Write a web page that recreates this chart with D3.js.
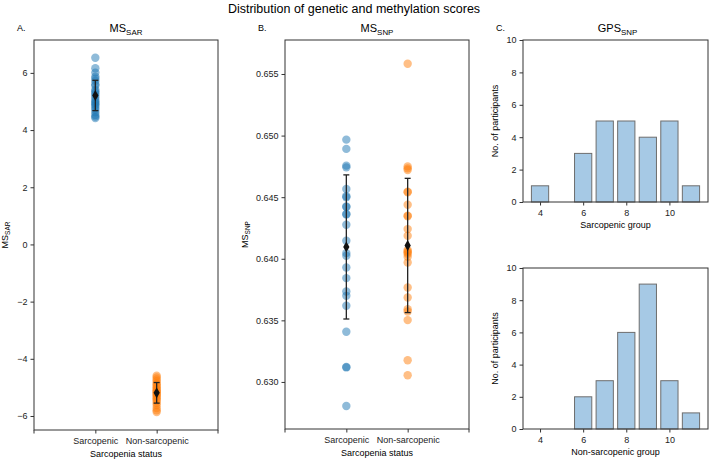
<!DOCTYPE html>
<html>
<head>
<meta charset="utf-8">
<script src="https://cdn.jsdelivr.net/npm/d3@7"></script>
<style>
  body { margin: 0; background: #fff; }
  svg { font-family: "Liberation Sans", Arial, sans-serif; }
</style>
</head>
<body>
<div id="chart"></div>
<script>
// categories
var groups = ["Sarcopenic", "Non-sarcopenic"];

// MS_SAR values per participant
var sarSarc = [6.53, 6.16, 6.01, 5.87, 5.80, 5.72, 5.60, 5.55, 5.41, 5.35, 5.30, 5.23,
               5.15, 5.06, 5.00, 4.95, 4.90, 4.85, 4.78, 4.71, 4.62, 4.53, 4.47, 4.42];
var sarNon = [-4.59, -4.65, -4.72, -4.78, -4.85, -4.90, -4.95, -5.00, -5.05, -5.10, -5.13, -5.17,
              -5.20, -5.24, -5.28, -5.33, -5.38, -5.42, -5.48, -5.55, -5.62, -5.72, -5.80, -5.86];
var sarMean = [5.21, -5.19];
var sarSd = [0.53, 0.36];

// MS_SNP values per participant
var snpSarc = [0.64967, 0.64892, 0.64756, 0.64742, 0.64567, 0.64507, 0.64500, 0.64425,
               0.64420, 0.64363, 0.64360, 0.64276, 0.64146, 0.64046, 0.64024, 0.63929,
               0.63843, 0.63734, 0.63699, 0.63618, 0.63407, 0.63122, 0.63118, 0.62805];
var snpNon = [0.65583, 0.64750, 0.64734, 0.64721, 0.64545, 0.64540, 0.64439, 0.64350,
              0.64345, 0.64241, 0.64187, 0.64071, 0.64060, 0.64051, 0.64038, 0.64016,
              0.63970, 0.63767, 0.63685, 0.63591, 0.63572, 0.63502, 0.63176, 0.63054];
var snpMean = [0.64096, 0.64108];
var snpSd = [0.00585, 0.00545];

// GPS_SNP histograms
var gpsBins = [4, 5, 6, 7, 8, 9, 10, 11];
var gpsSarc = [1, 0, 3, 5, 5, 4, 5, 1];
var gpsNon = [0, 0, 2, 3, 6, 9, 3, 1];

var colors = ["#1f77b4", "#ff7f0e"];

var svg = d3.select("#chart").append("svg")
    .attr("width", 709)
    .attr("height", 460);

svg.append("text")
    .attr("x", 354).attr("y", 13)
    .attr("text-anchor", "middle")
    .style("font-size", "12.5px")
    .text("Distribution of genetic and methylation scores");

// text with a subscript part
function subText(sel, main, sub, size) {
    sel.append("tspan").text(main).style("font-size", size + "px");
    sel.append("tspan").text(sub).attr("dy", size * 0.25)
        .style("font-size", (size * 0.72) + "px");
}

function frame(g, w, h) {
    g.append("rect")
        .attr("width", w).attr("height", h)
        .attr("fill", "none")
        .attr("stroke", "#333").attr("stroke-width", 1);
}

function styleAxis(a) {
    a.select(".domain").remove();
    a.selectAll(".tick line").attr("stroke", "#333");
    a.selectAll(".tick text").style("font-size", "9px").attr("fill", "#222");
}

function stripPanel(opt) {
    var w = opt.w, h = opt.h;
    var g = svg.append("g").attr("transform", "translate(" + opt.left + "," + opt.top + ")");
    var x = d3.scalePoint().domain(groups).range([0, w]).padding(1);
    var y = d3.scaleLinear().domain(opt.domain).range([h, 0]);

    var yAx = g.append("g").call(d3.axisLeft(y).tickValues(opt.ticks)
        .tickFormat(opt.fmt).tickSize(3.5).tickPadding(3));
    styleAxis(yAx);
    var xAx = g.append("g").attr("transform", "translate(0," + h + ")")
        .call(d3.axisBottom(x).tickSize(3.5).tickPadding(4));
    styleAxis(xAx);
    // end ticks at the frame corners like the reference
    g.selectAll(".edge").data([0, w]).enter().append("line")
        .attr("x1", function(d) { return d; }).attr("x2", function(d) { return d; })
        .attr("y1", h).attr("y2", h + 3.5).attr("stroke", "#333");

    opt.values.forEach(function(vals, i) {
        g.selectAll(null).data(vals).enter().append("circle")
            .attr("cx", x(groups[i]))
            .attr("cy", function(d) { return y(d); })
            .attr("r", 4.2)
            .attr("fill", colors[i])
            .attr("fill-opacity", 0.5);
    });

    groups.forEach(function(gr, i) {
        var cx = x(gr), m = opt.mean[i], s = opt.sd[i];
        g.append("line").attr("x1", cx).attr("x2", cx)
            .attr("y1", y(m - s)).attr("y2", y(m + s))
            .attr("stroke", "#222").attr("stroke-width", 1.3);
        [m - s, m + s].forEach(function(v) {
            g.append("line").attr("x1", cx - 3).attr("x2", cx + 3)
                .attr("y1", y(v)).attr("y2", y(v))
                .attr("stroke", "#222").attr("stroke-width", 1.3);
        });
        g.append("path")
            .attr("d", d3.symbol().type(d3.symbolDiamond).size(34)())
            .attr("transform", "translate(" + cx + "," + y(m) + ")")
            .attr("fill", "#111");
    });

    frame(g, w, h);

    subText(g.append("text").attr("x", w / 2).attr("y", -8).attr("text-anchor", "middle"),
        opt.title[0], opt.title[1], 11);
    g.append("text").attr("x", opt.letterX).attr("y", -9)
        .style("font-size", "9px").text(opt.letter);
    subText(g.append("text")
        .attr("transform", "translate(" + opt.ylabX + "," + (h / 2) + ") rotate(-90)")
        .attr("text-anchor", "middle"), opt.title[0], opt.title[1], 9);
    g.append("text").attr("x", w / 2).attr("y", h + 27)
        .attr("text-anchor", "middle").style("font-size", "9px")
        .text("Sarcopenia status");
}

stripPanel({
    left: 34, top: 40, w: 184, h: 390,
    domain: [-6.49, 7.15], ticks: [-6, -4, -2, 0, 2, 4, 6], fmt: d3.format("d"),
    values: [sarSarc, sarNon], mean: sarMean, sd: sarSd,
    title: ["MS", "SAR"], letter: "A.", letterX: -17, ylabX: -26
});

stripPanel({
    left: 285, top: 40, w: 184, h: 389,
    domain: [0.62618, 0.65776], ticks: [0.630, 0.635, 0.640, 0.645, 0.650, 0.655],
    fmt: d3.format(".3f"),
    values: [snpSarc, snpNon], mean: snpMean, sd: snpSd,
    title: ["MS", "SNP"], letter: "B.", letterX: -27, ylabX: -37
});

function histPanel(opt) {
    var w = opt.w, h = opt.h;
    var g = svg.append("g").attr("transform", "translate(" + opt.left + "," + opt.top + ")");
    var x = d3.scaleLinear().domain([3.21, 11.79]).range([0, w]);
    var y = d3.scaleLinear().domain([0, 10]).range([h, 0]);

    var yAx = g.append("g").call(d3.axisLeft(y).tickValues([0, 2, 4, 6, 8, 10])
        .tickSize(3.5).tickPadding(3));
    styleAxis(yAx);
    var xAx = g.append("g").attr("transform", "translate(0," + h + ")")
        .call(d3.axisBottom(x).tickValues([4, 6, 8, 10]).tickSize(3.5).tickPadding(4));
    styleAxis(xAx);

    g.selectAll(".bar").data(gpsBins).enter().append("rect")
        .attr("x", function(d) { return x(d - 0.4); })
        .attr("width", function(d) { return x(d + 0.4) - x(d - 0.4); })
        .attr("y", function(d, i) { return y(opt.counts[i]); })
        .attr("height", function(d, i) { return h - y(opt.counts[i]); })
        .attr("fill", "#a6c9e5")
        .attr("stroke", "#6e6e6e").attr("stroke-width", 1);

    frame(g, w, h);

    g.append("text")
        .attr("transform", "translate(-25," + (h / 2) + ") rotate(-90)")
        .attr("text-anchor", "middle").style("font-size", "9px")
        .text("No. of participants");
    g.append("text").attr("x", w / 2).attr("y", h + 26)
        .attr("text-anchor", "middle").style("font-size", "9px")
        .text(opt.xlabel);
    if (opt.title) {
        subText(g.append("text").attr("x", w / 2 + 2).attr("y", -8).attr("text-anchor", "middle"),
            "GPS", "SNP", 11);
        g.append("text").attr("x", -27).attr("y", -9)
            .style("font-size", "9px").text("C.");
    }
}

histPanel({ left: 523, top: 40, w: 185, h: 162, counts: gpsSarc,
    xlabel: "Sarcopenic group", title: true });
histPanel({ left: 523, top: 268, w: 185, h: 161, counts: gpsNon,
    xlabel: "Non-sarcopenic group", title: false });
</script>
</body>
</html>
